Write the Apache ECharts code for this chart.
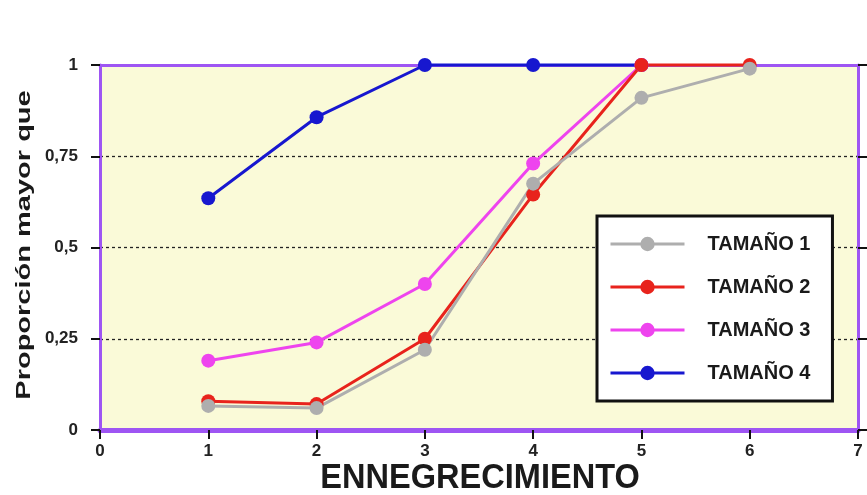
<!DOCTYPE html>
<html>
<head>
<meta charset="utf-8">
<script src="https://cdn.jsdelivr.net/npm/echarts@6/dist/echarts.min.js"></script>
<style>
  html, body { margin: 0; padding: 0; background: #ffffff; }
  #chart { width: 867px; height: 495px; }
</style>
</head>
<body>
<div id="chart"></div>
<script>
// Proportion of samples above each darkening level, by size class
const xTicks = [0, 1, 2, 3, 4, 5, 6, 7];
const seriesNames = ['TAMAÑO 1', 'TAMAÑO 2', 'TAMAÑO 3', 'TAMAÑO 4'];
const tamano1 = [[1, 0.066], [2, 0.06], [3, 0.22], [4, 0.675], [5, 0.91], [6, 0.99]];
const tamano2 = [[1, 0.079], [2, 0.071], [3, 0.25], [4, 0.645], [5, 1], [6, 1]];
const tamano3 = [[1, 0.19], [2, 0.24], [3, 0.40], [4, 0.73], [5, 1]];
const tamano4 = [[1, 0.635], [2, 0.857], [3, 1], [4, 1], [5, 1]];
const yAxisTitle = 'Proporción mayor que';
const xAxisTitle = 'ENNEGRECIMIENTO';

const PURPLE = '#9E55F3';
const colors = { t1: '#AEAEAE', t2: '#E8231C', t3: '#EE44EE', t4: '#1717CF' };
const FONT = "'Liberation Sans', Arial, Helvetica, sans-serif";

function lineSeries(name, data, color) {
  return {
    name: name,
    type: 'line',
    data: data,
    clip: false,
    symbol: 'circle',
    symbolSize: 14,
    itemStyle: { color: color },
    lineStyle: { color: color, width: 3 },
    emphasis: { disabled: true }
  };
}

const chart = echarts.init(document.getElementById('chart'), null, { renderer: 'canvas' });

chart.setOption({
  animation: false,
  backgroundColor: '#ffffff',
  grid: {
    left: 100, right: 9, top: 65, bottom: 65,
    show: true, backgroundColor: '#FAFAD8', borderWidth: 0
  },
  xAxis: [{
    type: 'value',
    position: 'bottom',
    min: xTicks[0], max: xTicks[xTicks.length - 1], interval: 1,
    axisLine: { show: true, onZero: false, lineStyle: { color: PURPLE, width: 5 } },
    axisTick: { show: true, inside: false, length: 9, lineStyle: { color: '#111', width: 2 } },
    axisLabel: { margin: 13, color: '#222', fontFamily: FONT, fontWeight: 'bold', fontSize: 17, showMaxLabel: true, showMinLabel: true },
    splitLine: { show: false }
  }, {
    type: 'value',
    position: 'top',
    min: 0, max: 7, interval: 1,
    axisLine: { show: true, onZero: false, lineStyle: { color: PURPLE, width: 3 } },
    axisTick: { show: false },
    axisLabel: { show: false },
    splitLine: { show: false }
  }],
  yAxis: [{
    type: 'value',
    position: 'left',
    min: 0, max: 1, interval: 0.25,
    axisLine: { show: true, onZero: false, lineStyle: { color: PURPLE, width: 3 } },
    axisTick: { show: true, inside: false, length: 9, lineStyle: { color: '#111', width: 2 } },
    axisLabel: {
      margin: 22, color: '#222', fontFamily: FONT, fontWeight: 'bold', fontSize: 17,
      formatter: v => String(v).replace('.', ',')
    },
    splitLine: { show: true, lineStyle: { color: '#222', width: 1.3, type: [3, 3] } }
  }, {
    type: 'value',
    position: 'right',
    min: 0, max: 1, interval: 0.25,
    axisLine: { show: true, onZero: false, lineStyle: { color: PURPLE, width: 3 } },
    axisTick: { show: true, inside: false, length: 9, lineStyle: { color: '#111', width: 2 } },
    axisLabel: { show: false },
    splitLine: { show: false }
  }],
  legend: {
    data: seriesNames,
    orient: 'vertical',
    left: 597, top: 216,
    backgroundColor: '#ffffff',
    borderColor: '#111111', borderWidth: 3, borderRadius: 0,
    padding: [18, 22, 18, 12],
    itemWidth: 74, itemHeight: 18, itemGap: 23,
    lineStyle: { width: 3 },
    textStyle: { fontFamily: FONT, fontWeight: 'bold', fontSize: 20, color: '#1a1a1a', padding: [0, 0, 0, 18] },
    selectedMode: false
  },
  graphic: [{
    type: 'text',
    x: 24, y: 245,
    rotation: Math.PI / 2,
    scaleX: 1.45,
    style: {
      text: yAxisTitle, font: 'bold 20px ' + FONT, fill: '#1a1a1a',
      textAlign: 'center', textVerticalAlign: 'middle'
    }
  }, {
    type: 'text',
    x: 480, y: 478,
    scaleX: 0.93,
    style: {
      text: xAxisTitle, font: 'bold 35px ' + FONT, fill: '#1a1a1a',
      textAlign: 'center', textVerticalAlign: 'middle'
    }
  }],
  series: [
    lineSeries(seriesNames[3], tamano4, colors.t4),
    lineSeries(seriesNames[2], tamano3, colors.t3),
    lineSeries(seriesNames[1], tamano2, colors.t2),
    lineSeries(seriesNames[0], tamano1, colors.t1)
  ]
});
</script>
</body>
</html>
